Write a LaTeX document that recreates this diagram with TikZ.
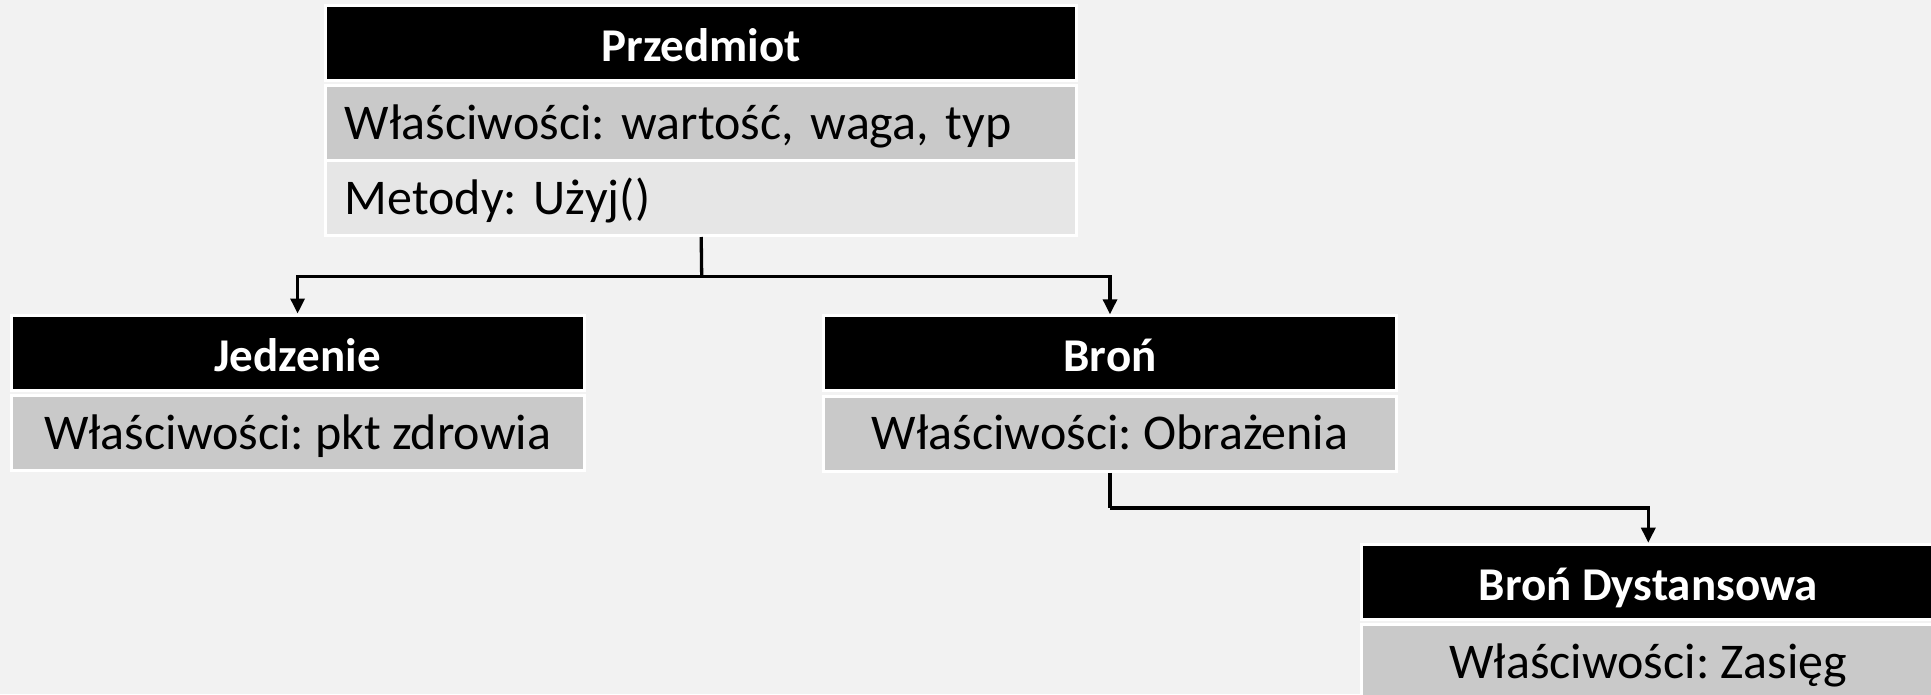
\documentclass[tikz,border=0pt]{standalone}
\usepackage{fontspec}
\setmainfont{Carlito}
\usetikzlibrary{arrows.meta}
\frenchspacing
\definecolor{bgcol}{HTML}{F2F2F2}
\definecolor{rowdark}{HTML}{C9C9C9}
\definecolor{rowlight}{HTML}{E6E6E6}
\begin{document}
\begin{tikzpicture}[x=1pt,y=-1pt,
  cell/.style={rectangle, draw=white, line width=3pt, inner sep=0pt,
    minimum height=75pt},
  headcell/.style={cell, fill=black, text=white, text height=44pt, text depth=7pt,
    font=\fontsize{47}{56}\selectfont\bfseries},
  bodycell/.style={cell, fill=rowdark, text height=40pt, text depth=8pt,
    font=\fontsize{50}{60}\selectfont},
  wide/.style={minimum width=750.7pt},
  narrow/.style={minimum width=572.8pt},
  leftrow/.style={text width=712.7pt, align=left, inner xsep=19pt},
  link/.style={line width=3.3pt, draw=black},
  arr/.style={link, -{Triangle[width=14pt,length=15pt]}}
]
% canvas
\fill[bgcol] (0,0) rectangle (1931,694);
\useasboundingbox (0,0) rectangle (1931,694);

% base class
\node[headcell, wide] (ph) at (701.2,43.3) {Przedmiot};
\node[bodycell, wide, leftrow] (p1) at (701.2,123) {Właściwości: wartość, waga, typ};
\node[bodycell, wide, leftrow, fill=rowlight] (p2) at (701.2,198) {Metody: Użyj()};

% derived classes
\node[headcell, narrow] (jh) at (297.6,352.5) {Jedzenie};
\node[bodycell, narrow] (j1) at (297.6,433) {Właściwości: pkt zdrowia};

\node[headcell, narrow] (bh) at (1110,353.3) {Broń};
\node[bodycell, narrow] (b1) at (1110,433.8) {Właściwości: Obrażenia};

\node[headcell, narrow] (dh) at (1648.3,581.7) {Broń Dystansowa};
\node[bodycell, narrow] (d1) at (1648.3,662) {Właściwości: Zasięg};

% inheritance connectors
\coordinate (bus) at (701.7,276.7);
\draw[link] (p2.south) -- (bus);
\draw[arr] (bus) -| (jh.north);
\draw[arr] (bus) -| (bh.north);

\coordinate (bus2) at (1110,508);
\draw[link] (b1.south) -- (bus2);
\draw[arr] (bus2) -| (dh.north);
\end{tikzpicture}
\end{document}
